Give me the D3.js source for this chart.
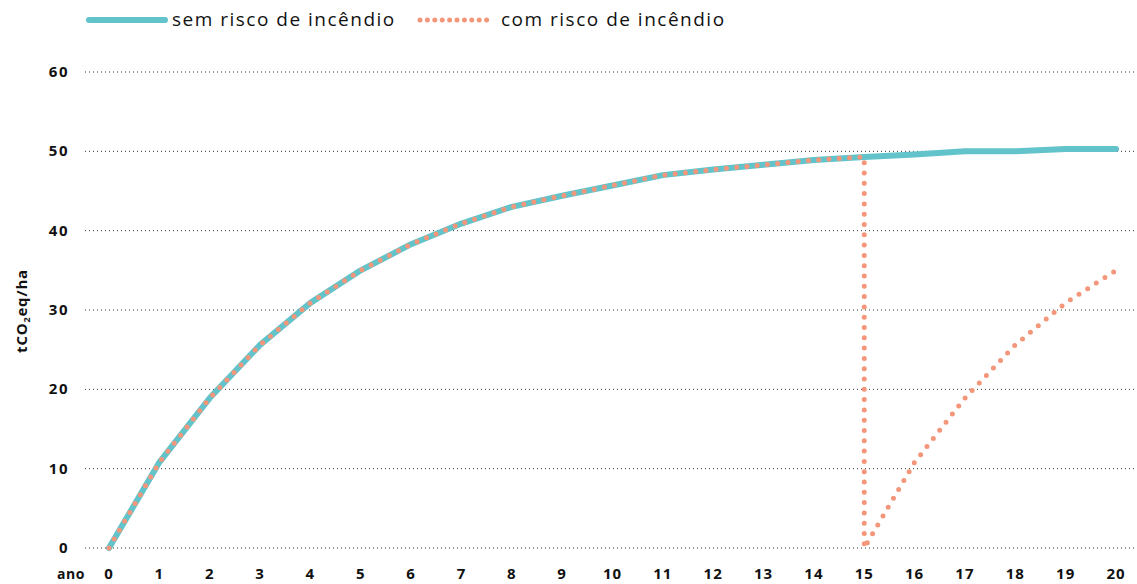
<!DOCTYPE html>
<html>
<head>
<meta charset="utf-8">
<script src="https://cdn.jsdelivr.net/npm/d3@7"></script>
<style>
  body { margin: 0; background: #fff; }
  text { font-family: "Open Sans", "DejaVu Sans", sans-serif; }
</style>
</head>
<body>
<div id="chart"></div>
<script>
//years on the x axis
var anos = [0,1,2,3,4,5,6,7,8,9,10,11,12,13,14,15,16,17,18,19,20];

//without fire risk (tCO2eq/ha)
var semRisco = [0,10.8,18.9,25.6,30.9,35.0,38.3,40.9,43.0,44.4,45.7,47.0,47.7,48.3,48.9,49.3,49.6,50.0,50.0,50.3,50.3];

//with fire risk: fire at year 15, then regrowth
var comRiscoAnos = [0,1,2,3,4,5,6,7,8,9,10,11,12,13,14,15,15,16,17,18,19,20];
var comRisco = [0,10.8,18.9,25.6,30.9,35.0,38.3,40.9,43.0,44.4,45.7,47.0,47.7,48.3,48.9,49.3,0,10.8,18.9,25.6,30.9,35.0];

var yTicks = [0,10,20,30,40,50,60];

var W = 1137, H = 584;
var TEAL = "#62c3ca", ORANGE = "#f4967a";

var svg = d3.select("#chart").append("svg")
  .attr("width", W).attr("height", H);

var x = d3.scaleLinear().domain([0,20]).range([109,1116]);
var y = d3.scaleLinear().domain([0,60]).range([548,72]);

//gridlines
svg.selectAll(".grid").data(yTicks).enter()
  .append("line")
  .attr("x1", 85).attr("x2", W)
  .attr("y1", d => y(d)).attr("y2", d => y(d))
  .attr("stroke", "#333")
  .attr("stroke-width", 1)
  .attr("stroke-dasharray", "1,3");

//y tick labels
svg.selectAll(".ylab").data(yTicks).enter()
  .append("text")
  .attr("x", 69).attr("y", d => y(d) + 5)
  .attr("text-anchor", "end")
  .attr("font-size", 15).attr("font-weight", "bold")
  .attr("letter-spacing", 1.5)
  .attr("fill", "#111")
  .text(d => d);

//x tick labels
svg.selectAll(".xlab").data(anos).enter()
  .append("text")
  .attr("x", d => x(d)).attr("y", 579)
  .attr("text-anchor", "middle")
  .attr("font-size", 15).attr("font-weight", "bold")
  .attr("letter-spacing", 1)
  .attr("fill", "#111")
  .text(d => d);

svg.append("text")
  .attr("x", 71).attr("y", 579)
  .attr("text-anchor", "middle")
  .attr("font-size", 14).attr("font-weight", "bold")
  .attr("letter-spacing", 0.5)
  .attr("fill", "#111")
  .text("ano");

//y axis title
var yt = svg.append("text")
  .attr("transform", "translate(27,311) rotate(-90)")
  .attr("text-anchor", "middle")
  .attr("font-size", 15).attr("font-weight", "bold")
  .attr("letter-spacing", 0.8)
  .attr("fill", "#111");
yt.append("tspan").text("tCO");
yt.append("tspan").attr("font-size", 9).attr("dy", 3).text("2");
yt.append("tspan").attr("dy", -3).text("eq/ha");

//lines
var line = d3.line().x(d => x(d[0])).y(d => y(d[1]));

svg.append("path")
  .datum(anos.map((a,i) => [a, semRisco[i]]))
  .attr("d", line)
  .attr("fill", "none")
  .attr("stroke", TEAL)
  .attr("stroke-width", 6)
  .attr("stroke-linecap", "round")
  .attr("stroke-linejoin", "round");

svg.append("path")
  .datum(comRiscoAnos.map((a,i) => [a, comRisco[i]]))
  .attr("d", line)
  .attr("fill", "none")
  .attr("stroke", ORANGE)
  .attr("stroke-width", 5)
  .attr("stroke-linecap", "round")
  .attr("stroke-dasharray", "0,10.3");

//legend
svg.append("line")
  .attr("x1", 89).attr("x2", 165).attr("y1", 20).attr("y2", 20)
  .attr("stroke", TEAL).attr("stroke-width", 6).attr("stroke-linecap", "round");
svg.append("text")
  .attr("x", 172).attr("y", 26)
  .attr("font-size", 19).attr("fill", "#111")
  .attr("letter-spacing", 1.5)
  .text("sem risco de incêndio");

svg.append("line")
  .attr("x1", 420).attr("x2", 494).attr("y1", 20).attr("y2", 20)
  .attr("stroke", ORANGE).attr("stroke-width", 5).attr("stroke-linecap", "round")
  .attr("stroke-dasharray", "0,7.4");
svg.append("text")
  .attr("x", 501).attr("y", 26)
  .attr("font-size", 19).attr("fill", "#111")
  .attr("letter-spacing", 1.5)
  .text("com risco de incêndio");
</script>
</body>
</html>
